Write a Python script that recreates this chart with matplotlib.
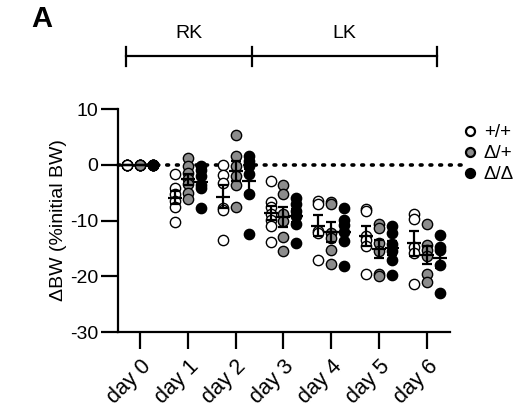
"""
Body weight change per day after RK / LK, three genotypes.
"""

import numpy as np
import matplotlib.pyplot as plt
from matplotlib.transforms import blended_transform_factory

plt.rcParams['font.family'] = ['Liberation Sans', 'DejaVu Sans']
plt.rcParams['axes.unicode_minus'] = False

days = ['day 0', 'day 1', 'day 2', 'day 3', 'day 4', 'day 5', 'day 6']
genotypes = ['+/+', 'Δ/+', 'Δ/Δ']

# %initial BW, one list per day
wt = [
    [0, 0, 0, 0, 0, 0],
    [-1.7, -4.2, -5.3, -6.5, -7.5, -10.2],
    [0, -1.8, -3.2, -7.7, -8.1, -13.5],
    [-2.9, -6.7, -7.5, -8.8, -9.9, -11.0, -13.9],
    [-6.5, -7.0, -11.8, -12.3, -17.0],
    [-7.9, -8.2, -12.8, -13.5, -14.6, -19.6],
    [-8.8, -9.8, -14.8, -15.8, -21.3],
]
het = [
    [0, 0, 0, 0, 0, 0],
    [1.2, -0.3, -1.5, -2.6, -3.5, -5.0, -6.2],
    [5.3, 1.5, -0.3, -2.0, -3.6, -7.6],
    [-3.6, -5.3, -8.9, -10.0, -13.0, -15.5],
    [-6.7, -7.1, -12.2, -13.1, -15.3, -17.8],
    [-10.6, -11.3, -14.1, -15.5, -19.5, -20.0],
    [-10.6, -14.3, -15.2, -16.4, -19.5, -21.1],
]
hom = [
    [0, 0, 0, 0, 0, 0],
    [-0.3, -1.0, -2.0, -3.7, -4.2, -7.7],
    [1.6, 0.6, -0.2, -1.6, -5.2, -12.5],
    [-5.9, -7.0, -8.3, -9.2, -10.6, -14.0],
    [-7.8, -9.9, -10.8, -12.0, -13.7, -18.1],
    [-10.9, -12.3, -14.2, -15.5, -17.0, -19.8],
    [-12.6, -14.8, -15.3, -18.0, -23.0],
]
groups = [wt, het, hom]
fills = ['white', '#8c8c8c', 'black']
offsets = [-0.27, 0.0, 0.27]

fig = plt.figure(figsize=(5.22, 4.13), dpi=100)
ax = fig.add_axes([0.226, 0.196, 0.636, 0.540])

x = np.arange(len(days))
ax.plot([-0.46, 6.85], [0, 0], ls=(0, (0.5, 2.2)), lw=2.6, color='k',
        dash_capstyle='round', clip_on=False, zorder=1)

handles = []
for data, fc, off in zip(groups, fills, offsets):
    for i, vals in enumerate(data):
        ax.scatter(np.full(len(vals), x[i] + off), vals, s=55, facecolor=fc,
                   edgecolor='k', linewidth=1.0, zorder=2, clip_on=False)
    means = np.array([np.mean(v) for v in data])
    sems = np.array([np.std(v, ddof=1) / np.sqrt(len(v)) for v in data])
    ax.errorbar(x + off, means, yerr=sems, fmt='_', markersize=10, mew=1.6,
                capsize=3.5, capthick=1.6, elinewidth=1.6, color='k', zorder=3)
    handles.append(plt.Line2D([], [], ls='none', marker='o', ms=6.5,
                              mfc=fc, mec='k', mew=1.6))

ax.set_xlim(-0.46, 6.48)
ax.set_ylim(-30, 10)
ax.set_yticks([10, 0, -10, -20, -30])
ax.set_xticks(x)
ax.set_xticklabels(days, rotation=45, ha='right', rotation_mode='anchor')
ax.tick_params(length=12, width=1.6, labelsize=14, pad=2)
ax.tick_params(axis='x', pad=5, labelsize=15.5)
for side in ['top', 'right']:
    ax.spines[side].set_visible(False)
for side in ['left', 'bottom']:
    ax.spines[side].set_linewidth(1.6)
ax.set_ylabel('ΔBW (%initial BW)', fontsize=14, labelpad=2)

ax.legend(handles, genotypes, loc='upper left', bbox_to_anchor=(1.02, 0.965),
          frameon=False, fontsize=13.5, handlelength=0.6, handletextpad=0.45,
          labelspacing=0.2, borderaxespad=0)

# treatment bracket above the plot
tr = blended_transform_factory(ax.transData, ax.transAxes)
edges = [-0.29, 2.34, 6.21]
ax.plot([edges[0], edges[-1]], [1.238, 1.238], color='k', lw=1.6,
        transform=tr, clip_on=False)
for e in edges:
    ax.plot([e, e], [1.195, 1.28], color='k', lw=1.6, transform=tr,
            clip_on=False)
ax.text((edges[0] + edges[1]) / 2, 1.30, 'RK', transform=tr, fontsize=14,
        ha='center', va='bottom')
ax.text((edges[1] + edges[2]) / 2, 1.30, 'LK', transform=tr, fontsize=14,
        ha='center', va='bottom')

fig.text(0.06, 0.955, 'A', fontsize=21, fontweight='bold', ha='left',
         va='center')

plt.savefig('out.png', dpi=100)
